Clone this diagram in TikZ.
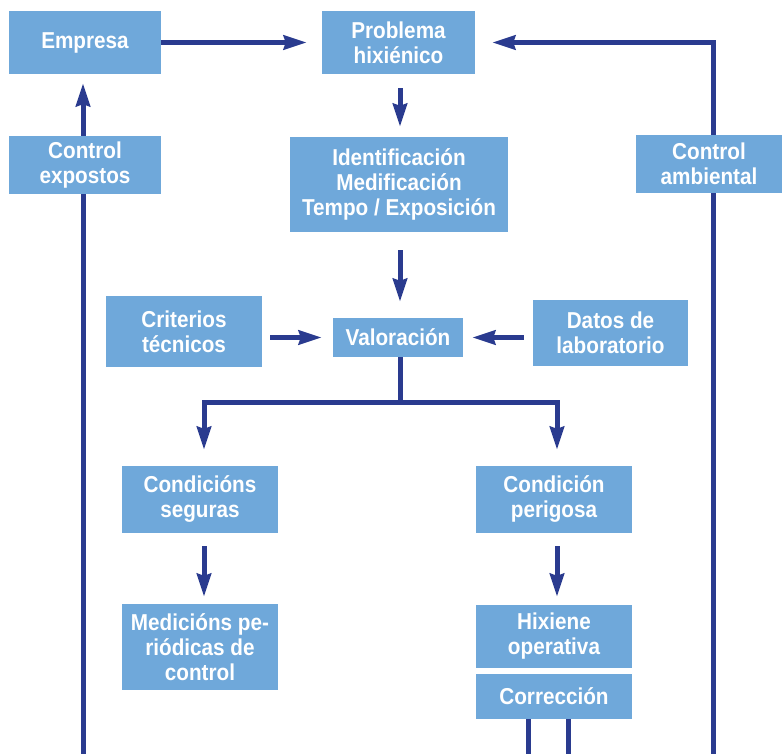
\documentclass[tikz,border=0pt]{standalone}
\usepackage{fontspec}
\setmainfont{Liberation Sans}[FakeStretch=0.9]
\usetikzlibrary{arrows.meta}
\definecolor{boxblue}{HTML}{6FA8DA}
\definecolor{linkblue}{HTML}{2A3B8F}
\pgfdeclarelayer{background}
\pgfsetlayers{background,main}
\tikzset{
  x=1pt, y=-1pt,
  box/.style={rectangle, fill=boxblue, inner sep=0pt, align=center,
    text=white, font=\bfseries\fontsize{23}{25}\selectfont},
  link/.style={draw=linkblue, line width=5pt, line join=miter},
  arr/.style={link, -{Stealth[length=23pt, width=14pt, inset=2pt]}},
}
\begin{document}
\begin{tikzpicture}
\useasboundingbox (0,0) rectangle (782,754);

% boxes
\node[box, minimum width=152pt, minimum height=63pt] (emp)   at (85,42.5)   {Empresa};
\node[box, minimum width=153pt, minimum height=63pt] (prob)  at (398.5,42.5) {Problema\\hixiénico};
\node[box, minimum width=152pt, minimum height=58pt] (cexp)  at (85,165)    {Control\\expostos};
\node[box, minimum width=218pt, minimum height=95pt] (ident) at (399,184.5) {Identificación\\Medificación\\Tempo / Exposición};
\node[box, minimum width=146pt, minimum height=58pt] (camb)  at (709,164)   {Control\\ambiental};
\node[box, minimum width=156pt, minimum height=71pt] (crit)  at (184,331.5) {Criterios\\técnicos};
\node[box, minimum width=130pt, minimum height=39pt] (val)   at (398,337.5) {Valoración};
\node[box, minimum width=155pt, minimum height=66pt] (datos) at (610.5,333) {Datos de\\laboratorio};
\node[box, minimum width=156pt, minimum height=67pt] (cseg)  at (200,499.5) {Condicións\\seguras};
\node[box, minimum width=156pt, minimum height=67pt] (cper)  at (554,499.5) {Condición\\perigosa};
\node[box, minimum width=156pt, minimum height=86pt] (medi)  at (200,647)   {Medicións pe-\\riódicas de\\control};
\node[box, minimum width=156pt, minimum height=63pt] (hix)   at (554,636.5) {Hixiene\\operativa};
\node[box, minimum width=156pt, minimum height=45pt] (corr)  at (554,696.5) {Corrección};

% free ends at the lower edge
\coordinate (bl)  at (83,754);
\coordinate (br)  at (713,754);
\coordinate (c1)  at (528,754);
\coordinate (c2)  at (568,754);
\coordinate (split) at (400,402);

% connectors
\begin{pgfonlayer}{background}
  \draw[arr, shorten >=15pt] (emp.east) -- (prob.west);
  \draw[arr, shorten >=17pt] (br) |- (prob.east);
  \draw[arr, shorten >=9pt] (bl) -- (bl |- emp.south);
  \draw[arr, shorten <=14pt, shorten >=10pt] (split |- prob.south) -- (split |- ident.north);
  \draw[arr, shorten <=18pt, shorten >=16pt] (split |- ident.south) -- (split |- val.north);
  \draw[arr, shorten <=8pt, shorten >=11pt] (val.west -| crit.east) -- (val.west);
  \draw[arr, shorten <=9pt, shorten >=9pt] (val.east -| datos.west) -- (val.east);
  \draw[link] (split |- val.south) -- (split);
  \draw[arr, shorten >=16pt] (split) -| ([xshift=4pt]cseg.north);
  \draw[arr, shorten >=16pt] (split) -| ([xshift=3pt]cper.north);
  \draw[arr, shorten <=13pt, shorten >=7pt] ([xshift=4pt]cseg.south) -- ([xshift=4pt]medi.north);
  \draw[arr, shorten <=13pt, shorten >=8pt] ([xshift=3pt]cper.south) -- ([xshift=3pt]hix.north);
  \draw[link] (c1) -- (c1 |- corr.south);
  \draw[link] (c2) -- (c2 |- corr.south);
\end{pgfonlayer}
\end{tikzpicture}
\end{document}
